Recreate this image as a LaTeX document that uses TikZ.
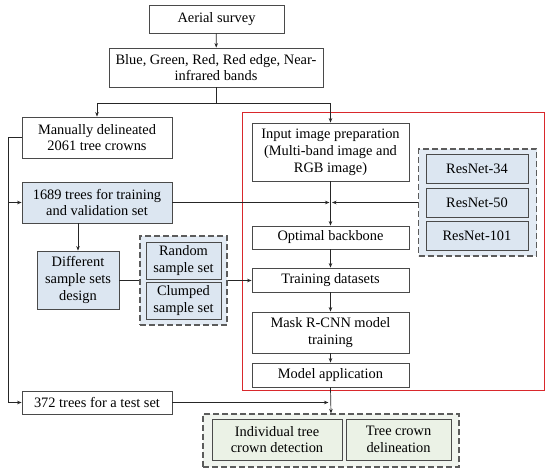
\documentclass[tikz,border=0pt]{standalone}
\usepackage{fontspec}
\setmainfont{Liberation Serif}
\usetikzlibrary{arrows.meta}
\definecolor{bord}{HTML}{4A4A4A}
\definecolor{bluefill}{HTML}{DCE6F1}
\definecolor{bluebg}{HTML}{E3EBF4}
\definecolor{greenfill}{HTML}{EBF2E6}
\definecolor{greenbg}{HTML}{F0F4EE}
\definecolor{redline}{HTML}{D9282C}
\tikzset{
  box/.style={draw=bord, line width=0.8pt, fill=white, align=center, inner sep=0pt,
    font=\fontsize{14.4}{16.8}\selectfont},
  bbox/.style={box, fill=bluefill},
  gbox/.style={box, fill=greenfill},
  grp/.style={draw=bord!90, line width=1.2pt, dash pattern=on 6pt off 3pt, inner sep=0pt},
  arr/.style={draw=black!85, line width=0.7pt, -{Stealth[length=4.5pt,width=3.5pt]}},
  ln/.style={draw=black!85, line width=0.7pt},
}
\begin{document}
\begin{tikzpicture}[x=1pt,y=-1pt]
\useasboundingbox (0,0) rectangle (550,476);
% red frame
\draw[redline, line width=1pt] (242,113) rectangle (544,391);
% group backgrounds
\node[grp, fill=bluebg, minimum width=87pt, minimum height=89pt] (sampbox) at (183.5,280.5) {};
\node[grp, fill=bluebg, minimum width=118pt, minimum height=107pt] (resbox) at (477.5,202.5) {};
\node[grp, fill=greenbg, minimum width=256pt, minimum height=53pt] (greenbox) at (331,440.5) {};
% nodes
\node[box, minimum width=135pt, minimum height=28pt] (aerial) at (216.5,19) {Aerial survey};
\node[box, minimum width=214pt, minimum height=39pt] (bands) at (216,67.5) {Blue, Green, Red, Red edge, Near-\\infrared bands};
\node[box, minimum width=150pt, minimum height=41pt] (manual) at (97,137.5) {Manually delineated\\2061 tree crowns};
\node[bbox, minimum width=150pt, minimum height=41pt] (t1689) at (97,202.5) {1689 trees for training\\and validation set};
\node[bbox, minimum width=82pt, minimum height=58pt] (diff) at (78,280) {Different\\sample sets\\design};
\node[bbox, minimum width=75pt, minimum height=37pt] (random) at (183.5,260.5) {Random\\sample set};
\node[bbox, minimum width=75pt, minimum height=37pt] (clumped) at (183.5,300.5) {Clumped\\sample set};
\node[box, minimum width=157pt, minimum height=58pt] (input) at (330.5,152) {Input image preparation\\(Multi-band image and\\RGB image)};
\node[box, minimum width=157pt, minimum height=23pt] (optimal) at (330.5,237.5) {Optimal backbone};
\node[box, minimum width=157pt, minimum height=24pt] (trainds) at (330.5,280) {Training datasets};
\node[box, minimum width=157pt, minimum height=41pt] (mask) at (330.5,332.5) {Mask R-CNN model\\training};
\node[box, minimum width=157pt, minimum height=24pt] (modelapp) at (330.5,375) {Model application};
\node[bbox, minimum width=102pt, minimum height=29pt] (r34) at (477,168.5) {ResNet-34};
\node[bbox, minimum width=102pt, minimum height=29pt] (r50) at (477,202.5) {ResNet-50};
\node[bbox, minimum width=102pt, minimum height=29pt] (r101) at (477,235.5) {ResNet-101};
\node[box, minimum width=150pt, minimum height=23pt] (test) at (97,402.5) {372 trees for a test set};
\node[gbox, minimum width=130pt, minimum height=41pt] (indiv) at (277,439.5) {Individual tree\\crown detection};
\node[gbox, minimum width=105pt, minimum height=41pt] (delin) at (398.5,439.5) {Tree crown\\delineation};
% connectors
\draw[arr] (aerial) -- (bands);
\coordinate (split) at (216,103);
\draw[ln] (bands.south) -- (split);
\draw[arr] (split) -| (manual.north);
\draw[arr] (split) -| (input.north);
\coordinate (left) at (8,137.5);
\draw[ln] (manual.west) -- (left);
\draw[arr] (left) |- (t1689.west);
\draw[arr] (left) |- (test.west);
\draw[arr] (t1689.south -| diff.north) -- (diff.north);
\draw[ln] (diff.east |- sampbox.west) -- (sampbox.west);
\draw[arr] (sampbox.east) -- (sampbox.east -| trainds.west);
\coordinate (junc) at (330.5,202.5);
\draw[arr] (t1689.east) -- ([xshift=-1pt]junc);
\draw[arr] (resbox.west) -- ([xshift=1.5pt]junc);
\draw[arr] (input.south) -- (optimal.north);
\draw[arr] (optimal.south) -- (trainds.north);
\draw[arr] (trainds.south) -- (mask.north);
\draw[arr] (mask.south) -- (modelapp.north);
\draw[arr] (modelapp.south) -- (greenbox.north);
\draw[arr] (test.east) -- ([xshift=-2pt]test.east -| modelapp.south);
\end{tikzpicture}
\end{document}
